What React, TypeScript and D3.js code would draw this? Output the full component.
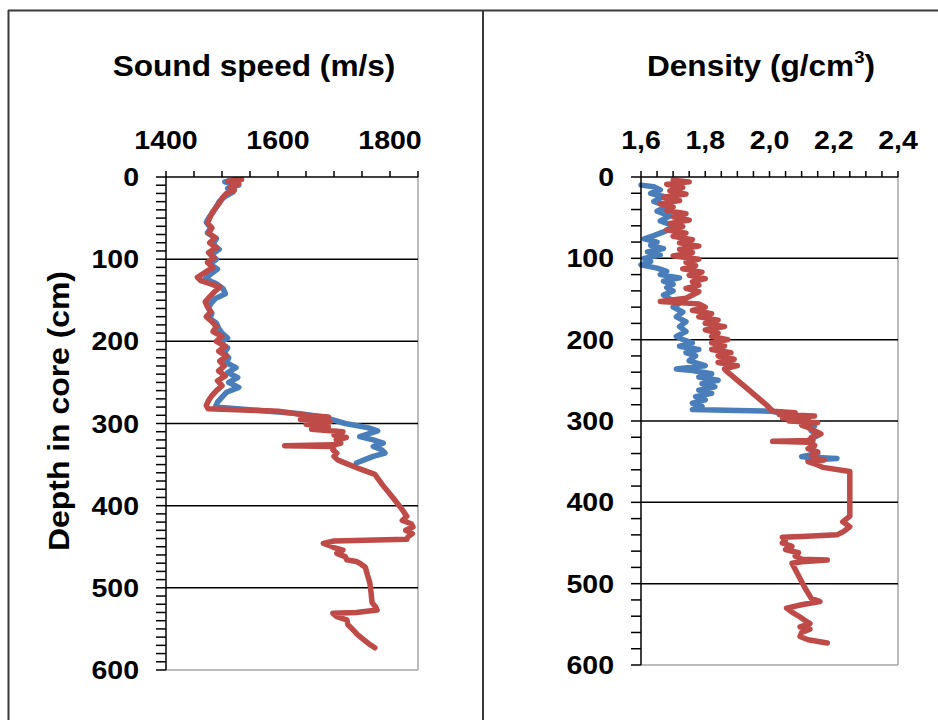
import React from "react";
import * as d3 from "d3";

// ---------- DATA ----------
const soundTicks = [1400, 1600, 1800];
const densityTicks = [1.6, 1.8, 2.0, 2.2, 2.4];
const depthTicks = [0, 100, 200, 300, 400, 500, 600];

const soundBlueDepth = [3,6,10,14,18,24,30,36,42,48,55,62,68,75,82,88,95,100,106,112,118,124,130,136,142,148,154,160,166,172,178,184,190,196,202,208,214,220,226,232,238,244,250,256,262,268,274,280,284,288,292,296,300,305,309,313,316,320,324,328,332,336,340,344,348];
const soundBlueValue = [1525,1505,1530,1510,1520,1505,1495,1490,1485,1478,1472,1480,1474,1490,1484,1495,1480,1490,1478,1492,1480,1470,1490,1502,1506,1488,1480,1476,1482,1478,1490,1494,1500,1510,1496,1510,1504,1512,1508,1525,1510,1528,1512,1530,1508,1500,1492,1488,1560,1640,1680,1700,1720,1760,1778,1760,1746,1770,1788,1770,1785,1791,1770,1755,1740];

const soundRedDepth = [3,5,8,12,16,20,26,32,38,44,50,56,62,68,74,80,86,92,98,104,110,116,122,126,130,134,140,146,152,158,164,170,176,182,188,194,200,206,212,218,224,230,236,242,248,254,260,266,272,278,282,285,287,290,292,295,298,301,304,307,310,314,317,320,324,326,327,328,332,336,340,344,347,355,362,375,390,405,413,418,422,426,430,434,438,441,443,446,448,451,454,458,462,466,468,470,475,485,494,505,518,524,527,530,531,535,539,545,551,557,563,568,573];
const soundRedValue = [1535,1510,1530,1515,1522,1508,1500,1495,1488,1482,1478,1474,1482,1476,1488,1478,1490,1476,1486,1474,1484,1470,1456,1462,1480,1496,1486,1478,1470,1474,1480,1472,1482,1490,1484,1500,1490,1506,1494,1508,1496,1504,1494,1506,1492,1500,1490,1482,1476,1472,1475,1600,1621,1650,1690,1640,1693,1650,1690,1660,1716,1700,1722,1704,1712,1700,1612,1700,1698,1705,1700,1706,1716,1745,1773,1787,1805,1822,1830,1822,1838,1841,1828,1840,1832,1830,1700,1681,1690,1700,1716,1705,1720,1723,1740,1746,1756,1760,1764,1766,1768,1775,1777,1740,1698,1705,1723,1725,1734,1742,1753,1762,1773];

const densBlueDepth = [10,12,16,20,24,30,36,42,48,54,60,66,72,76,80,84,88,92,96,100,104,108,112,116,120,124,128,132,136,140,145,150,155,160,166,172,178,184,190,196,200,204,208,212,216,220,226,232,236,238,242,246,250,254,258,262,266,270,274,278,282,286,287,288,292,296,300,306,312,318,324,330,336,340,344,346,348];
const densBlueValue = [1.60,1.64,1.66,1.63,1.67,1.64,1.68,1.65,1.69,1.66,1.70,1.68,1.64,1.61,1.65,1.63,1.67,1.62,1.66,1.61,1.63,1.60,1.65,1.68,1.66,1.72,1.67,1.70,1.68,1.70,1.67,1.69,1.72,1.70,1.73,1.71,1.74,1.72,1.74,1.71,1.73,1.76,1.72,1.78,1.74,1.77,1.75,1.80,1.71,1.76,1.82,1.78,1.84,1.79,1.83,1.78,1.82,1.77,1.80,1.76,1.79,1.76,1.90,2.01,2.05,2.10,2.12,2.14,2.13,2.15,2.12,2.14,2.13,2.15,2.10,2.21,2.12];

const densRedDepth = [4,6,9,13,17,21,25,29,33,37,41,45,49,53,57,61,65,69,73,77,81,85,89,93,97,101,105,109,113,117,121,125,129,133,137,141,145,149,153,156,160,164,168,172,176,180,184,188,192,196,200,204,208,212,216,220,224,228,232,236,240,260,280,288,290,292,294,296,298,300,302,305,308,312,316,320,324,325,326,330,334,338,342,346,348,350,354,357,362,375,400,417,424,430,436,440,442,443,446,450,454,458,462,466,470,471,473,475,490,505,518,522,526,530,535,541,545,549,553,556,560,565,569,573];
const densRedValue = [1.70,1.75,1.68,1.73,1.69,1.74,1.67,1.72,1.66,1.70,1.68,1.74,1.70,1.75,1.69,1.73,1.68,1.74,1.70,1.76,1.72,1.78,1.72,1.76,1.70,1.78,1.74,1.77,1.73,1.79,1.75,1.80,1.76,1.78,1.74,1.78,1.76,1.74,1.66,1.78,1.80,1.76,1.82,1.78,1.84,1.80,1.86,1.80,1.84,1.82,1.87,1.82,1.86,1.82,1.88,1.84,1.89,1.84,1.90,1.86,1.87,1.93,1.99,2.01,2.08,2.03,2.14,2.04,2.12,2.06,2.15,2.10,2.12,2.14,2.16,2.13,2.135,2.01,2.12,2.14,2.12,2.15,2.13,2.14,2.17,2.12,2.15,2.166,2.25,2.25,2.25,2.25,2.228,2.25,2.23,2.21,2.10,2.04,2.05,2.04,2.07,2.05,2.09,2.08,2.10,2.18,2.10,2.07,2.09,2.11,2.13,2.157,2.10,2.053,2.07,2.095,2.11,2.126,2.095,2.126,2.10,2.095,2.12,2.18];

// ---------- STYLE ----------
const BLUE = "#4a7ebb";
const RED = "#be4b48";
const FONT = "'Liberation Sans', Arial, sans-serif";

type Pt = [number, number];
const zip = (d: number[], v: number[]): Pt[] => d.map((dd, i) => [v[i], dd]);

function Panel(props: {
  x: d3.ScaleLinear<number, number>;
  y: d3.ScaleLinear<number, number>;
  topTicks: number[];
  minorTopStep: number;
  minorDepthStep: number;
  labelFmt: (v: number) => string;
  labelRight: number;
  series: { pts: Pt[]; color: string }[];
}) {
  const { x, y, topTicks, minorTopStep, minorDepthStep, labelFmt, labelRight, series } = props;
  const [x0, x1] = x.range();
  const [y0, y1] = y.range();
  const [dx0, dx1] = x.domain();
  const nTop = Math.round((dx1 - dx0) / minorTopStep);
  const topMinor = d3.range(nTop + 1).map((i) => dx0 + i * minorTopStep);
  const depthMinor = d3.range(0, 601, minorDepthStep);
  const line = d3
    .line<Pt>()
    .x((p) => x(p[0]))
    .y((p) => y(p[1]));
  return (
    <g>
      <line x1={x1} y1={y0} x2={x1} y2={y1} stroke="#a6a6a6" strokeWidth={1.5} />
      <line x1={x0} y1={y1} x2={x1} y2={y1} stroke="#a6a6a6" strokeWidth={1.5} />
      {depthTicks.slice(1, -1).map((d) => (
        <line key={"g" + d} x1={x0} x2={x1} y1={y(d)} y2={y(d)} stroke="#000" strokeWidth={1.5} />
      ))}
      {series.map((s, i) => (
        <path
          key={i}
          d={line(s.pts) || ""}
          fill="none"
          stroke={s.color}
          strokeWidth={5.5}
          strokeLinejoin="round"
          strokeLinecap="round"
        />
      ))}
      <line x1={x0} y1={y0} x2={x1} y2={y0} stroke="#000" strokeWidth={1.5} />
      <line x1={x0} y1={y0} x2={x0} y2={y1} stroke="#000" strokeWidth={1.5} />
      {topMinor.map((v, i) => (
        <line key={"tt" + i} x1={x(v)} x2={x(v)} y1={y0 - 6} y2={y0} stroke="#000" strokeWidth={1.5} />
      ))}
      {depthMinor.map((d) => (
        <line key={"dt" + d} x1={x0 - 10} x2={x0} y1={y(d)} y2={y(d)} stroke="#000" strokeWidth={1.5} />
      ))}
      {topTicks.map((v) => (
        <text
          key={"tl" + v}
          transform={`translate(${x(v)},149) scale(1.14,1)`}
          textAnchor="middle"
          fontSize={25}
          fontWeight="bold"
          fontFamily={FONT}
        >
          {labelFmt(v)}
        </text>
      ))}
      {depthTicks.map((d) => (
        <text
          key={"dl" + d}
          transform={`translate(${labelRight},${y(d) + 9}) scale(1.14,1)`}
          textAnchor="end"
          fontSize={25}
          fontWeight="bold"
          fontFamily={FONT}
        >
          {d}
        </text>
      ))}
    </g>
  );
}

export default function App() {
  const xL = d3.scaleLinear().domain([1400, 1850]).range([166, 418]);
  const yL = d3.scaleLinear().domain([0, 600]).range([177, 670]);
  const xR = d3.scaleLinear().domain([1.6, 2.4]).range([641, 898]);
  const yR = d3.scaleLinear().domain([0, 600]).range([177, 665]);
  const commaFmt = (v: number) => d3.format(".1f")(v).replace(".", ",");

  return (
    <svg
      width={938}
      height={720}
      viewBox="0 0 938 720"
      style={{ position: "absolute", left: 0, top: 0, background: "#fff" }}
    >
      <rect x={0} y={0} width={938} height={720} fill="#fff" />
      <line x1={8} y1={10.5} x2={938} y2={10.5} stroke="#3a3a3a" strokeWidth={2} />
      <line x1={8.5} y1={10} x2={8.5} y2={720} stroke="#3a3a3a" strokeWidth={2} />
      <line x1={483} y1={10} x2={483} y2={720} stroke="#3a3a3a" strokeWidth={2} />

      <text
        transform="translate(254,76) scale(1.09,1)"
        textAnchor="middle"
        fontSize={29}
        fontWeight="bold"
        fontFamily={FONT}
      >
        Sound speed (m/s)
      </text>
      <text
        transform="translate(761,76) scale(1.09,1)"
        textAnchor="middle"
        fontSize={29}
        fontWeight="bold"
        fontFamily={FONT}
      >
        Density (g/cm
        <tspan fontSize={17} dy={-13}>3</tspan>
        <tspan dy={13}>)</tspan>
      </text>
      <text
        transform="translate(69,411) rotate(-90) scale(1.1,1)"
        textAnchor="middle"
        fontSize={29}
        fontWeight="bold"
        fontFamily={FONT}
      >
        Depth in core (cm)
      </text>

      <Panel
        x={xL}
        y={yL}
        topTicks={soundTicks}
        minorTopStep={50}
        minorDepthStep={10}
        labelFmt={(v) => String(v)}
        labelRight={139}
        series={[
          { pts: zip(soundBlueDepth, soundBlueValue), color: BLUE },
          { pts: zip(soundRedDepth, soundRedValue), color: RED },
        ]}
      />
      <Panel
        x={xR}
        y={yR}
        topTicks={densityTicks}
        minorTopStep={0.05}
        minorDepthStep={20}
        labelFmt={commaFmt}
        labelRight={614}
        series={[
          { pts: zip(densBlueDepth, densBlueValue), color: BLUE },
          { pts: zip(densRedDepth, densRedValue), color: RED },
        ]}
      />
    </svg>
  );
}
